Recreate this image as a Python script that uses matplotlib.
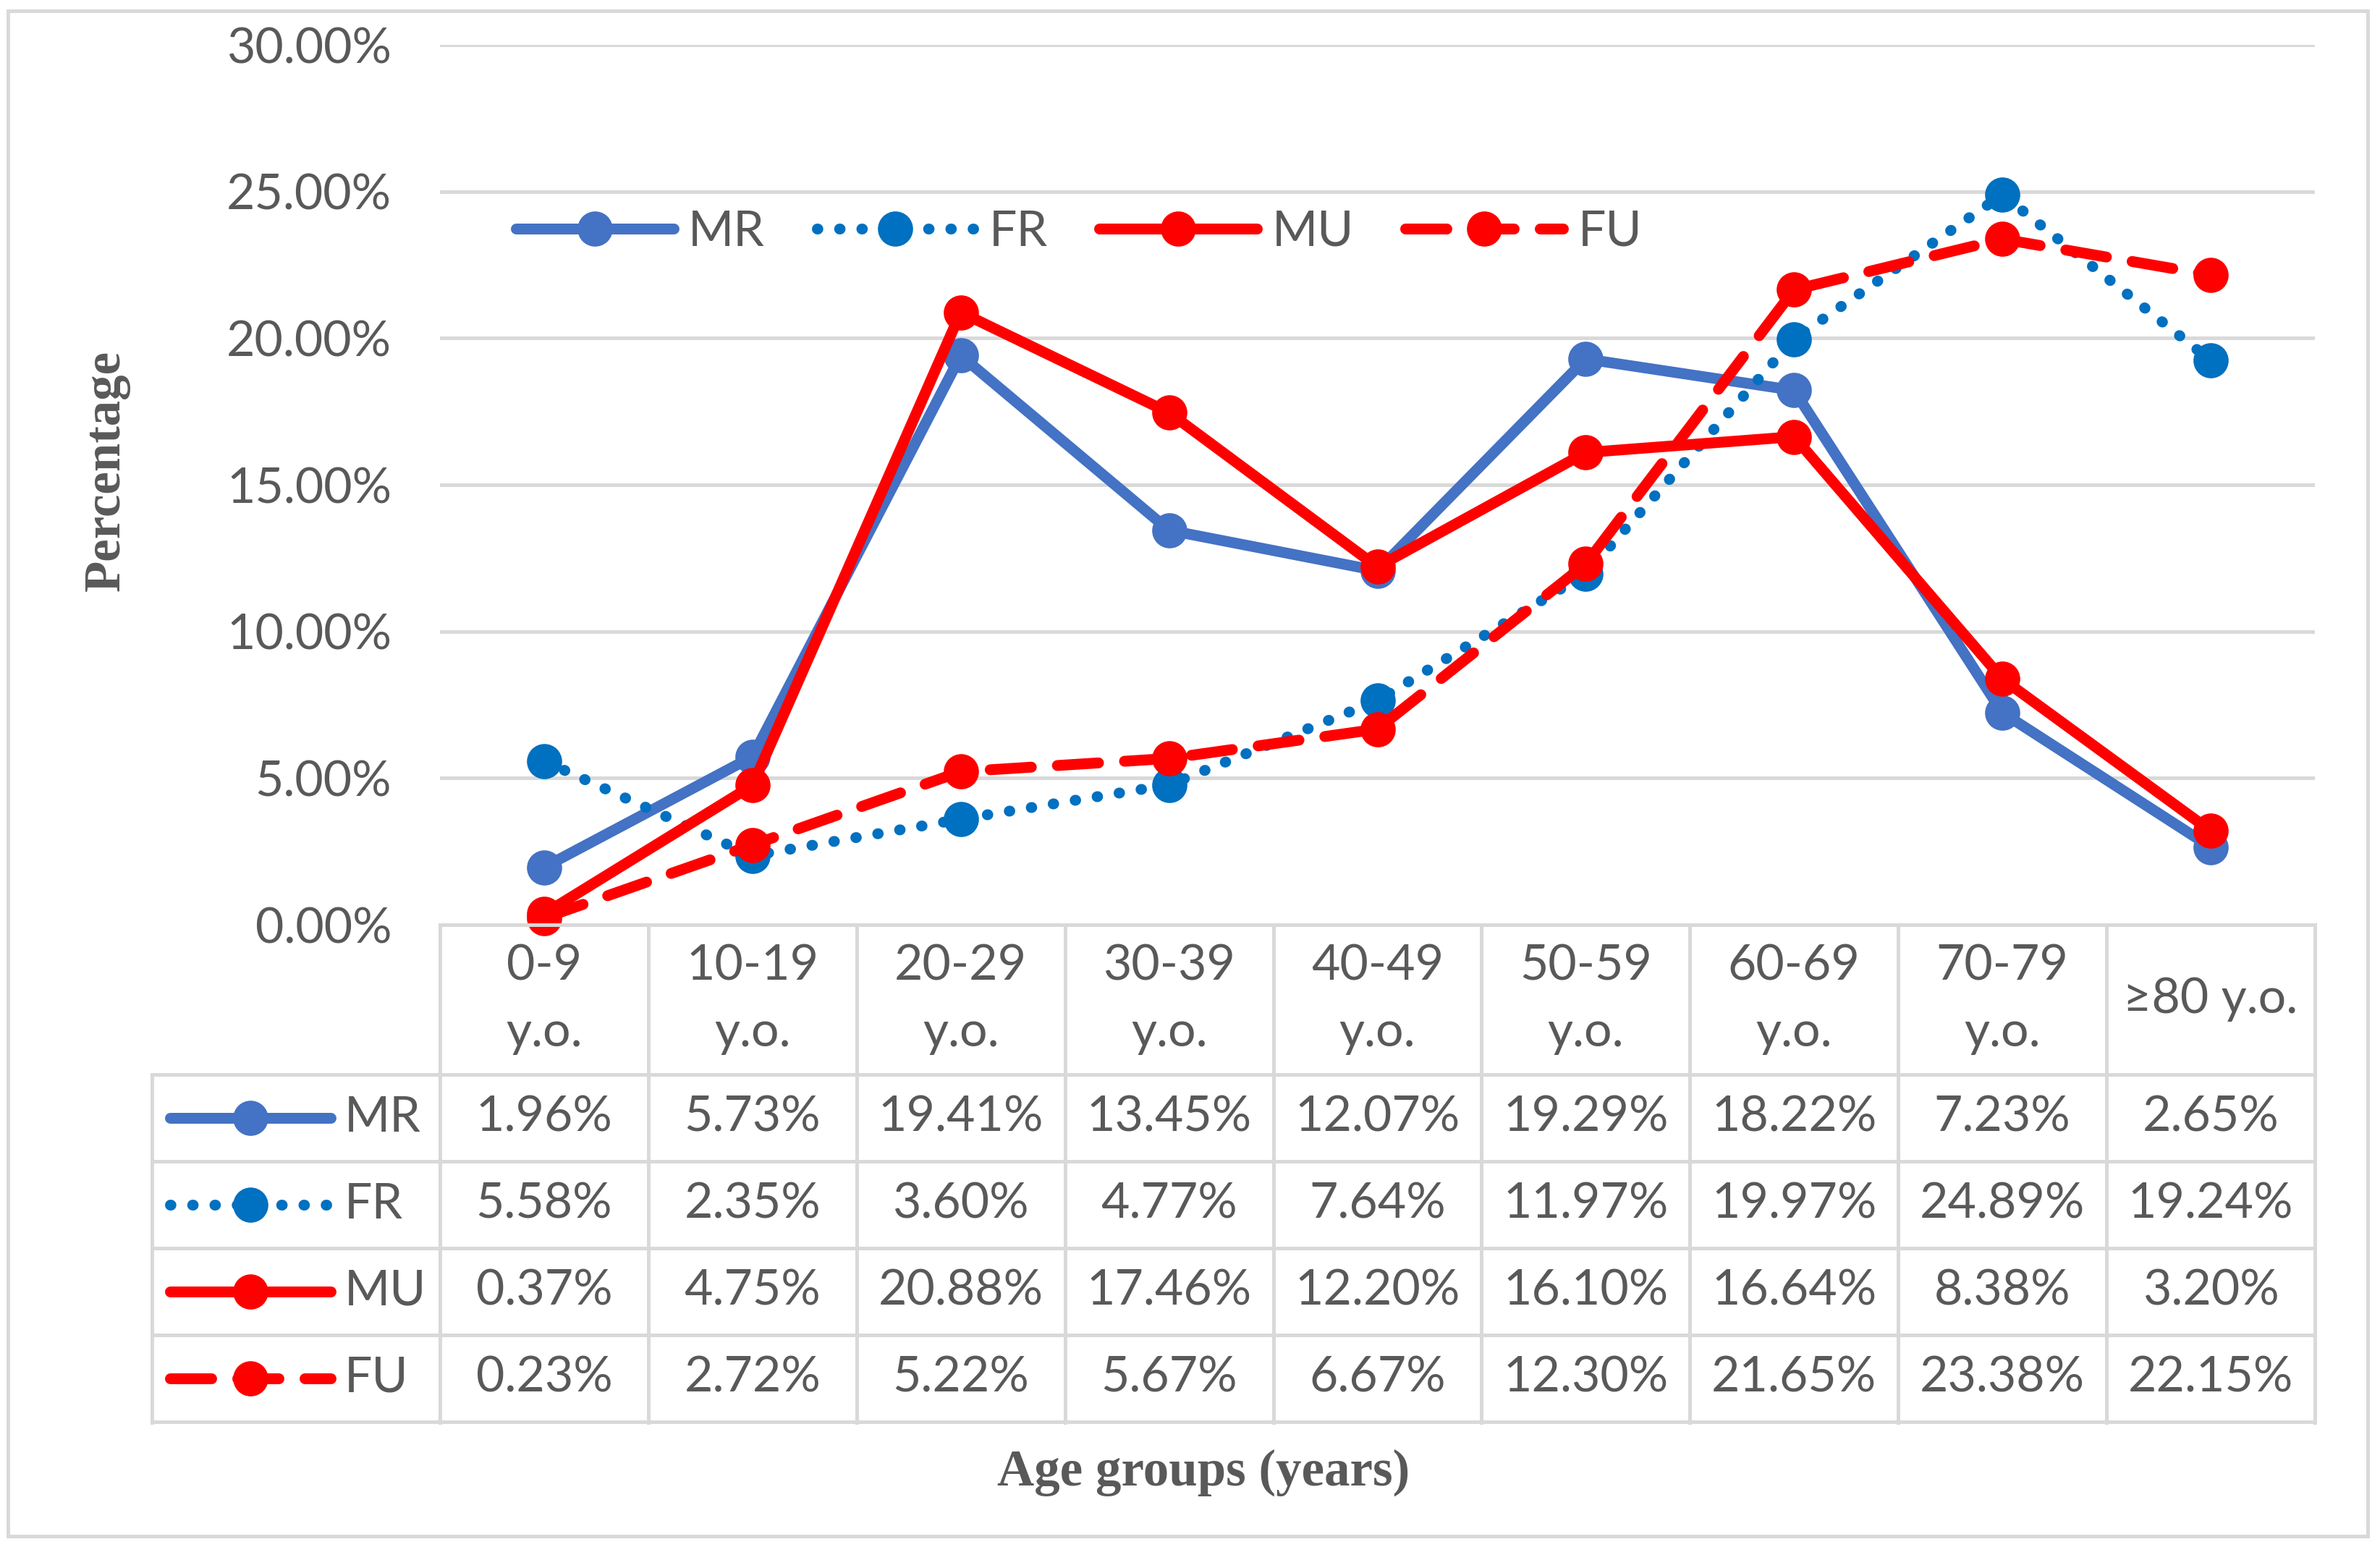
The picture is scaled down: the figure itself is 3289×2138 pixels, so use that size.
import matplotlib.pyplot as plt
from matplotlib.patches import Rectangle
import numpy as np

age_groups = ["0-9\ny.o.", "10-19\ny.o.", "20-29\ny.o.", "30-39\ny.o.", "40-49\ny.o.",
              "50-59\ny.o.", "60-69\ny.o.", "70-79\ny.o.", "\u226580 y.o."]
series_names = ["MR", "FR", "MU", "FU"]
mr = [1.96, 5.73, 19.41, 13.45, 12.07, 19.29, 18.22, 7.23, 2.65]
fr = [5.58, 2.35, 3.60, 4.77, 7.64, 11.97, 19.97, 24.89, 19.24]
mu = [0.37, 4.75, 20.88, 17.46, 12.20, 16.10, 16.64, 8.38, 3.20]
fu = [0.23, 2.72, 5.22, 5.67, 6.67, 12.30, 21.65, 23.38, 22.15]
yticks = [0, 5, 10, 15, 20, 25, 30]

W, H = 3289, 2138
TXT = "#595959"
GRID = "#D9D9D9"
FONT = "Lato"
FS = 24.5
LW = 5.4
MS = 16.5

styles = {
    "MR": dict(color="#4472C4", linestyle="-"),
    "FR": dict(color="#0070C0", linestyle=(0, (0.05, 2.0))),
    "MU": dict(color="#FF0000", linestyle="-"),
    "FU": dict(color="#FF0000", linestyle=(0, (3.8, 2.4))),
}
values = {"MR": mr, "FR": fr, "MU": mu, "FU": fu}

fig = plt.figure(figsize=(W / 200, H / 200), dpi=200)

# pixel layout of the reference
ax_left, ax_right = 608, 3199
ax_bottom, ax_top = 1278, 62
tab_left, tab_bottom = 210, 1966
head_h, row_h = 207, 120

ax = fig.add_axes([ax_left / W, 1 - ax_bottom / H, (ax_right - ax_left) / W, (ax_bottom - ax_top) / H])
x = np.arange(len(age_groups))
lines = []
for name in series_names:
    st = styles[name]
    ln, = ax.plot(x, values[name], color=st["color"], linestyle=st["linestyle"], lw=LW,
                  marker="o", ms=MS, dash_capstyle="round", solid_capstyle="round",
                  clip_on=False, zorder=3, label=name)
    lines.append(ln)

ax.set_xlim(-0.5, len(age_groups) - 0.5)
ax.set_ylim(0, 30)
ax.set_yticks(yticks)
ax.set_yticklabels([f"{v:.2f}%" for v in yticks], fontsize=FS, color=TXT, family=FONT)
ax.set_xticks([])
ax.tick_params(axis="y", length=0, pad=24)
ax.grid(axis="y", color=GRID, lw=1.8)
ax.set_axisbelow(True)
for sp in ax.spines.values():
    sp.set_visible(False)

leg = ax.legend(handles=lines, ncol=4, loc="center left", frameon=False,
                bbox_to_anchor=(713 / W, 1 - 321 / H), bbox_transform=fig.transFigure,
                borderpad=0, borderaxespad=0, handlelength=3.2, handletextpad=0.3,
                columnspacing=1.05, numpoints=1, prop={"family": FONT, "size": FS})
for t in leg.get_texts():
    t.set_color(TXT)

# data table under the plot, sharing the category positions
cat_w = (ax_right - ax_left) / len(age_groups)
x_min = -0.5 - (ax_left - tab_left) / cat_w
x_max = len(age_groups) - 0.5
tab_h = tab_bottom - ax_bottom
axt = fig.add_axes([tab_left / W, 1 - tab_bottom / H, (ax_right - tab_left) / W, tab_h / H])
axt.set_xlim(x_min, x_max)
axt.set_ylim(tab_h, 0)
axt.axis("off")

lk = dict(color=GRID, lw=1.8, solid_capstyle="projecting", clip_on=False)
axt.plot([-0.5, x_max], [0, 0], **lk)
for j in range(len(series_names) + 1):
    y = head_h + j * row_h
    axt.plot([x_min, x_max], [y, y], **lk)
for i in range(len(age_groups) + 1):
    axt.plot([i - 0.5, i - 0.5], [0, tab_h], **lk)
axt.plot([x_min, x_min], [head_h, tab_h], **lk)

for i, lab in enumerate(age_groups):
    axt.text(i, head_h / 2, lab, ha="center", va="center", fontsize=FS, color=TXT,
             family=FONT, linespacing=1.6)

to_x = lambda px: (px - ax_left) / cat_w - 0.5
for j, name in enumerate(series_names):
    yc = head_h + j * row_h + row_h / 2
    st = styles[name]
    axt.plot([to_x(235), to_x(457)], [yc, yc], color=st["color"], linestyle=st["linestyle"],
             lw=LW, dash_capstyle="round", solid_capstyle="round", clip_on=False)
    axt.plot([to_x(346)], [yc], marker="o", ms=MS, color=st["color"], clip_on=False)
    axt.text(to_x(476), yc, name, ha="left", va="center", fontsize=FS, color=TXT, family=FONT)
    for i, v in enumerate(values[name]):
        axt.text(i, yc, f"{v:.2f}%", ha="center", va="center", fontsize=FS, color=TXT, family=FONT)

fig.text(147 / W, 1 - 650 / H, "Percentage", rotation=90, ha="center", va="center",
         fontsize=25.5, fontweight="bold", color=TXT, family="Liberation Serif")
fig.text(1663 / W, 1 - 2035 / H, "Age groups (years)", ha="center", va="center",
         fontsize=25.5, fontweight="bold", color=TXT, family="Liberation Serif")

fig.patches.append(Rectangle((11 / W, 1 - 2123 / H), (3272 - 11) / W, (2123 - 15) / H,
                             transform=fig.transFigure, fill=False, edgecolor=GRID, lw=1.8))

fig.savefig("out.png", dpi=200, facecolor="white")
